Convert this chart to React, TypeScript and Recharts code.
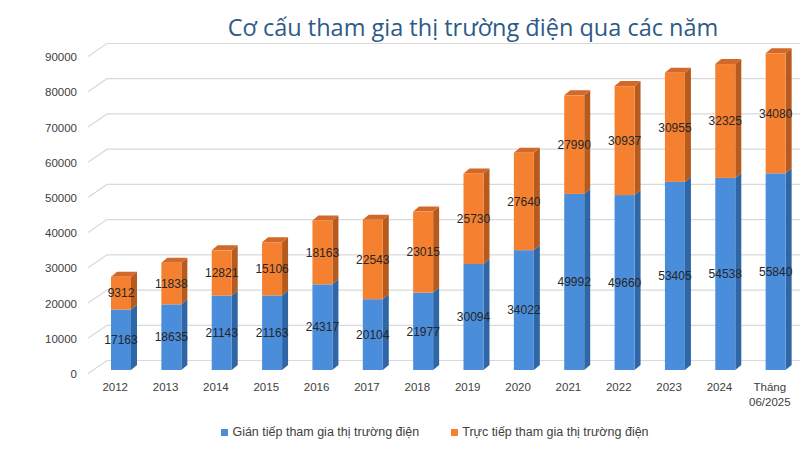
import React from 'react';
import {
  BarChart,
  Bar,
  XAxis,
  YAxis,
  CartesianGrid,
  LabelList,
} from 'recharts';

const years = [
  '2012', '2013', '2014', '2015', '2016', '2017', '2018',
  '2019', '2020', '2021', '2022', '2023', '2024', 'Tháng\n06/2025',
];
const indirect = [
  17163, 18635, 21143, 21163, 24317, 20104, 21977,
  30094, 34022, 49992, 49660, 53405, 54538, 55840,
];
const direct = [
  9312, 11838, 12821, 15106, 18163, 22543, 23015,
  25730, 27640, 27990, 30937, 30955, 32325, 34080,
];
const yTicks = [0, 10000, 20000, 30000, 40000, 50000, 60000, 70000, 80000, 90000];

const BLUE = { front: '#4a8ddb', side: '#2f66a5', top: '#3c78c0' };
const ORANGE = { front: '#f5802f', side: '#b65a1d', top: '#d2692a' };

const data = years.map((name, i) => ({
  name,
  indirect: indirect[i],
  direct: direct[i],
}));

// 3D-looking bar: front face shifted right, side and top faces added
const SHIFT = 6;
const DX = 6;
const DY = 5;

const make3D = (c: typeof BLUE, withTop: boolean) => (props: any) => {
  const { x, y, width, height } = props;
  if (!height) return null;
  const fx = x + SHIFT;
  const r = fx + width;
  return (
    <g>
      <polygon
        points={`${r},${y} ${r + DX},${y - DY} ${r + DX},${y + height - DY} ${r},${y + height}`}
        fill={c.side}
      />
      {withTop && (
        <polygon
          points={`${fx},${y} ${fx + DX},${y - DY} ${r + DX},${y - DY} ${r},${y}`}
          fill={c.top}
        />
      )}
      <rect x={fx} y={y} width={width} height={height} fill={c.front} />
    </g>
  );
};

const gridLine = (props: any) => {
  const { x1, y1, key } = props;
  const y = y1;
  return (
    <path
      key={key}
      d={`M${x1 - 2},${y + 3.5} L${x1 + 17},${y - 9.5} L800,${y - 9.5}`}
      stroke="#d9d9d9"
      strokeWidth={1.2}
      fill="none"
    />
  );
};

const XTick = (props: any) => {
  const { x, y, payload } = props;
  const lines = String(payload.value).split('\n');
  return (
    <text x={x} y={y} textAnchor="middle" fill="#404040" fontSize={11.5}>
      {lines.map((l, i) => (
        <tspan key={i} x={x} dy={i === 0 ? '0.71em' : '1.25em'}>
          {l}
        </tspan>
      ))}
    </text>
  );
};

const YTick = (props: any) => {
  const { x, y, payload } = props;
  return (
    <text x={x} y={y + 4} dy="0.355em" textAnchor="end" fill="#404040" fontSize={11.5}>
      {payload.value}
    </text>
  );
};

const valueLabel = (props: any) => {
  const { x, y, width, height, value } = props;
  return (
    <text
      x={x + width / 2 + SHIFT}
      y={y + height / 2}
      dy="0.355em"
      textAnchor="middle"
      fill="#262626"
      fontSize={12}
    >
      {value}
    </text>
  );
};

const legendItems = [
  { label: 'Gián tiếp tham gia thị trường điện', color: BLUE.front },
  { label: 'Trực tiếp tham gia thị trường điện', color: ORANGE.front },
];

const LegendBox = () => (
  <div
    style={{
      position: 'absolute',
      left: 0,
      top: 425,
      width: 800,
      boxSizing: 'border-box',
      display: 'flex',
      justifyContent: 'center',
      paddingLeft: 70,
      gap: 32,
      fontSize: 12.5,
      color: '#404040',
      fontFamily: 'Liberation Sans, Arial, sans-serif',
    }}
  >
    {legendItems.map((it) => (
      <div key={it.label} style={{ display: 'flex', alignItems: 'center' }}>
        <span
          style={{ width: 7, height: 7, background: it.color, marginRight: 4, display: 'inline-block' }}
        />
        {it.label}
      </div>
    ))}
  </div>
);

export default function App() {
  return (
    <div
      style={{
        position: 'absolute',
        left: 0,
        top: 0,
        width: 800,
        height: 450,
        background: '#fff',
        fontFamily: 'Liberation Sans, Arial, sans-serif',
      }}
    >
      <div
        style={{
          position: 'absolute',
          left: 0,
          width: 800,
          top: 11,
          paddingLeft: 146,
          boxSizing: 'border-box',
          textAlign: 'center',
          fontFamily: 'Open Sans, sans-serif',
          fontSize: 23.5,
          color: '#2e5a88',
        }}
      >
        Cơ cấu tham gia thị trường điện qua các năm
      </div>
      <BarChart
        width={800}
        height={450}
        data={data}
        margin={{ top: 53, right: 5, bottom: 50, left: 0 }}
        barSize={20}
      >
        <CartesianGrid vertical={false} horizontal={gridLine} />
        <XAxis
          dataKey="name"
          height={30}
          axisLine={false}
          tickLine={false}
          tick={<XTick />}
          tickMargin={7}
          interval={0}
        />
        <YAxis
          width={90}
          domain={[0, 90000]}
          ticks={yTicks}
          axisLine={false}
          tickLine={false}
          tick={<YTick />}
          tickMargin={7}
        />
        <Bar
          dataKey="indirect"
          stackId="a"
          name="Gián tiếp tham gia thị trường điện"
          fill={BLUE.front}
          shape={make3D(BLUE, false)}
          isAnimationActive={false}
        >
          <LabelList dataKey="indirect" content={valueLabel} />
        </Bar>
        <Bar
          dataKey="direct"
          stackId="a"
          name="Trực tiếp tham gia thị trường điện"
          fill={ORANGE.front}
          shape={make3D(ORANGE, true)}
          isAnimationActive={false}
        >
          <LabelList dataKey="direct" content={valueLabel} />
        </Bar>
      </BarChart>
      <LegendBox />
    </div>
  );
}
